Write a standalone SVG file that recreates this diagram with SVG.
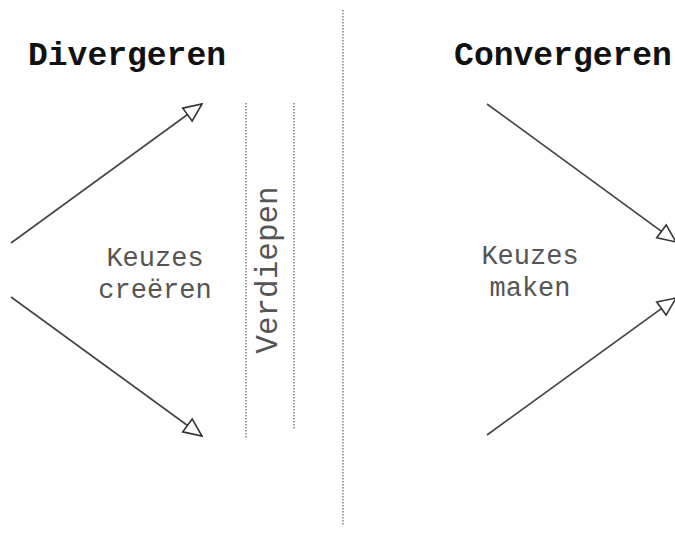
<svg xmlns="http://www.w3.org/2000/svg" width="675" height="534" viewBox="0 0 675 534">
<style>
.title{font-family:"Liberation Mono","Courier New",monospace;font-weight:bold;font-size:33px;fill:#111;text-anchor:middle}
.lbl{font-family:"Liberation Mono","Courier New",monospace;font-size:27px;fill:#555;text-anchor:middle}
.vert{font-family:"Liberation Mono","Courier New",monospace;font-size:31px;fill:#555;text-anchor:middle}
.arrow{stroke:#444;stroke-width:1.6;fill:none;marker-end:url(#head)}
.dot{stroke:#888;stroke-width:1.6;stroke-dasharray:1.5 1.5;fill:none}
</style>
<defs>
<marker id="head" viewBox="0 0 21 19" refX="19.5" refY="9.5" markerWidth="21" markerHeight="19" markerUnits="userSpaceOnUse" orient="auto">
<path d="M1.5,1.5 L19.5,9.5 L1.5,17.5 z" fill="#fff" stroke="#333" stroke-width="1.6" stroke-linejoin="miter"/>
</marker>
</defs>
<rect width="675" height="534" fill="#fff"/>
<g id="dividers">
<line class="dot" x1="343" y1="10" x2="343" y2="526"/>
<line class="dot" x1="246" y1="103" x2="246" y2="438"/>
<line class="dot" x1="294" y1="103" x2="294" y2="430"/>
</g>
<g id="divergeren">
<text class="title" x="127" y="65">Divergeren</text>
</g>
<g id="convergeren">
<text class="title" x="563" y="65">Convergeren</text>
</g>
<g id="keuzes-creeren">
<text class="lbl" x="155" y="266">Keuzes</text>
<text class="lbl" x="155" y="298">creëren</text>
</g>
<g id="keuzes-maken">
<text class="lbl" x="530" y="264">Keuzes</text>
<text class="lbl" x="530" y="296">maken</text>
</g>
<g id="verdiepen">
<text class="vert" transform="translate(277,270) rotate(-90)" x="0" y="0">Verdiepen</text>
</g>
<g id="connectors">
<line class="arrow" x1="11" y1="243" x2="202" y2="104"/>
<line class="arrow" x1="11" y1="297" x2="202" y2="436"/>
<line class="arrow" x1="487" y1="104" x2="676" y2="242"/>
<line class="arrow" x1="487" y1="435" x2="676" y2="298"/>
</g>
</svg>
